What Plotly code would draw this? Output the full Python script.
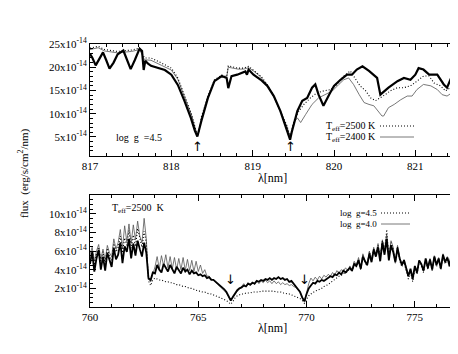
import numpy as np
import plotly.graph_objects as go

# ---- top panel: 817-821.5 nm, flux in units of 1e-14 ----
top_obs_wl = [817.00, 817.03, 817.07, 817.11, 817.16, 817.20, 817.24, 817.29, 817.34, 817.41,
              817.46, 817.50, 817.55, 817.61, 817.64, 817.66, 817.68, 817.71, 817.75, 817.84,
              817.92, 818.00, 818.08, 818.16, 818.24, 818.29, 818.32, 818.37, 818.45, 818.53,
              818.62, 818.68, 818.70, 818.74, 818.81, 818.91, 818.93, 818.95, 819.01, 819.10,
              819.18, 819.26, 819.34, 819.41, 819.46, 819.48, 819.55, 819.61, 819.67, 819.73,
              819.77, 819.81, 819.87, 819.94, 820.00, 820.08, 820.16, 820.22, 820.28, 820.35,
              820.43, 820.53, 820.57, 820.67, 820.78, 820.86, 820.94, 821.00, 821.04, 821.10,
              821.17, 821.27, 821.35, 821.39, 821.45, 821.50]
top_obs = [22.9, 22.0, 20.4, 21.8, 23.2, 21.5, 19.7, 21.0, 22.8, 23.6,
           21.5, 19.6, 21.5, 24.0, 23.5, 19.4, 21.4, 20.8, 20.3, 19.8,
           19.4, 18.4, 16.2, 12.8, 9.1, 6.3, 5.1, 8.5, 13.4, 17.0,
           18.1, 17.7, 15.5, 18.1, 18.4, 19.1, 18.4, 19.5, 18.4, 17.3,
           16.0, 13.8, 10.6, 7.0, 4.4, 6.0, 10.6, 12.8, 13.4, 15.6,
           16.3, 14.1, 11.7, 14.1, 16.0, 17.3, 18.4, 18.4, 19.5, 20.2,
           19.2, 17.7, 14.1, 15.6, 17.0, 17.7, 17.3, 18.4, 19.8, 19.5,
           18.4, 18.4, 16.3, 15.6, 18.1, 19.1]

top_t2500_wl = [817.00, 817.10, 817.18, 817.34, 817.51, 817.61, 817.67, 817.75, 817.88, 818.00,
                818.08, 818.16, 818.25, 818.31, 818.33, 818.37, 818.45, 818.53, 818.62, 818.68,
                818.70, 818.82, 818.89, 818.95, 819.01, 819.10, 819.18, 819.26, 819.34, 819.42,
                819.46, 819.51, 819.57, 819.63, 819.71, 819.79, 819.87, 819.96, 820.04, 820.12,
                820.20, 820.26, 820.32, 820.39, 820.45, 820.51, 820.57, 820.63, 820.69, 820.78,
                820.86, 820.94, 821.02, 821.10, 821.17, 821.23, 821.31, 821.37, 821.43, 821.50]
top_t2500 = [24.1, 24.5, 23.8, 23.4, 23.7, 24.1, 22.0, 22.0, 20.9, 19.8,
             17.7, 14.1, 9.8, 5.9, 5.3, 9.3, 13.8, 17.3, 18.3, 18.0,
             20.3, 19.8, 19.8, 20.2, 19.4, 18.1, 16.3, 13.8, 10.6, 7.5,
             5.0, 8.6, 10.6, 12.0, 13.4, 14.5, 14.9, 15.2, 16.3, 18.1,
             19.2, 17.7, 16.0, 14.9, 13.4, 12.8, 13.4, 14.1, 14.9, 15.6,
             15.6, 16.0, 17.0, 18.1, 18.1, 16.6, 16.0, 14.9, 15.6, 16.6]

top_t2400_wl = [817.00, 817.10, 817.18, 817.34, 817.51, 817.61, 817.67, 817.75, 817.88, 818.00,
                818.08, 818.16, 818.25, 818.31, 818.33, 818.37, 818.45, 818.53, 818.62, 818.68,
                818.70, 818.82, 818.89, 818.95, 819.01, 819.10, 819.18, 819.26, 819.34, 819.42,
                819.46, 819.51, 819.55, 819.59, 819.65, 819.73, 819.81, 819.89, 819.98, 820.06,
                820.12, 820.18, 820.24, 820.31, 820.37, 820.43, 820.49, 820.59, 820.61, 820.67,
                820.74, 820.82, 820.90, 820.96, 821.02, 821.10, 821.19, 821.27, 821.33, 821.39,
                821.45, 821.50]
top_t2400 = [23.8, 24.2, 23.5, 23.1, 23.4, 23.8, 21.6, 21.5, 20.4, 19.4,
             17.4, 13.9, 9.6, 5.9, 5.4, 9.1, 13.6, 17.1, 18.1, 17.8,
             20.0, 19.6, 19.6, 19.9, 19.2, 17.9, 16.1, 13.6, 10.4, 7.3,
             5.0, 8.2, 9.1, 8.1, 9.8, 12.0, 13.4, 14.1, 14.9, 16.3,
             17.3, 17.7, 16.3, 14.1, 12.4, 12.0, 11.7, 9.5, 9.5, 11.3,
             12.0, 13.0, 13.8, 13.8, 15.2, 16.3, 16.0, 15.2, 14.1, 13.8,
             14.5, 13.8]

# ---- bottom panel: 760-776.9 nm, sampled every 0.1 nm ----
bot_wl = np.round(np.arange(760.0, 776.95, 0.1), 1)
bot_obs = [4.6, 5.9, 3.8, 5.2, 6.1, 4.0, 5.4, 3.9, 5.8, 4.9,
           4.3, 6.3, 5.1, 5.6, 6.9, 4.7, 6.5, 5.9, 7.3, 5.2,
           6.8, 5.5, 7.1, 6.2, 5.4, 6.9, 5.8, 3.1, 2.9, 3.7,
           3.6, 4.5, 4.0, 3.7, 4.6, 4.2, 3.8, 4.5, 4.0, 3.6,
           4.3, 3.9, 3.6, 4.2, 3.8, 4.0, 3.5, 3.9, 3.6, 3.7,
           3.4, 3.5, 3.3, 3.4, 3.1, 3.2, 2.9, 2.9, 2.7, 2.5,
           2.4, 2.2, 1.9, 1.6, 1.1, 0.7, 1.1, 1.5, 1.8, 2.0,
           2.1, 2.3, 2.2, 2.5, 2.4, 2.6, 2.5, 2.8, 2.7, 2.9,
           2.8, 3.0, 2.9, 3.1, 2.9, 3.1, 3.0, 3.2, 3.0, 3.1,
           2.9, 3.0, 2.7, 2.8, 2.5, 2.3, 2.0, 1.6, 1.0, 0.6,
           1.4, 2.0, 2.3, 2.6, 2.5, 2.8, 2.7, 2.9, 2.8, 3.0,
           3.1, 3.3, 3.2, 3.5, 3.4, 3.7, 3.5, 3.9, 3.7, 4.0,
           4.2, 3.9, 4.6, 4.4, 5.0, 4.1, 5.4, 4.9, 4.5, 5.7,
           4.8, 6.1, 5.4, 6.4, 4.9, 6.9, 5.6, 7.3, 5.0, 6.6,
           5.9, 4.8, 6.3, 5.2, 4.5, 5.0, 4.2, 3.3, 4.1, 3.0,
           4.4, 3.7, 5.0, 4.6, 3.9, 5.2, 4.2, 5.1, 4.0, 5.4,
           4.5, 5.2, 4.1, 5.6, 4.8, 5.3, 4.4, 5.7, 5.0, 5.5]
bot_g45 = [5.3, 6.1, 4.5, 5.7, 6.4, 4.8, 5.9, 4.6, 6.3, 5.5,
           5.0, 6.8, 5.9, 6.4, 7.6, 5.8, 7.4, 6.6, 8.2, 6.3,
           7.7, 6.5, 8.4, 7.2, 6.4, 8.1, 6.9, 2.8, 2.3, 2.9,
           3.1, 3.0, 2.9, 2.9, 2.8, 2.7, 2.7, 2.6, 2.6, 2.5,
           2.4, 2.4, 2.3, 2.2, 2.2, 2.1, 2.0, 2.0, 1.9, 1.8,
           1.7, 1.7, 1.6, 1.6, 1.5, 1.4, 1.4, 1.3, 1.2, 1.1,
           1.0, 0.9, 0.8, 0.7, 0.5, 0.3, 0.6, 1.0, 1.2, 1.3,
           1.4, 1.4, 1.5, 1.5, 1.5, 1.6, 1.6, 1.6, 1.6, 1.7,
           1.7, 1.7, 1.7, 1.7, 1.7, 1.7, 1.6, 1.6, 1.6, 1.5,
           1.5, 1.4, 1.4, 1.3, 1.2, 1.1, 1.0, 0.9, 0.7, 0.4,
           0.8, 1.2, 1.4, 1.6, 1.7, 1.8, 1.9, 2.0, 2.2, 2.3,
           2.4, 2.6, 2.8, 3.0, 3.1, 3.3, 3.4, 3.6, 3.6, 3.9,
           4.1, 3.8, 4.7, 4.3, 5.1, 4.0, 5.5, 4.8, 4.4, 5.9,
           5.0, 6.3, 5.6, 6.6, 5.2, 7.1, 5.9, 8.3, 5.3, 6.9,
           6.2, 4.7, 6.5, 5.0, 4.3, 4.8, 4.0, 3.0, 3.8, 2.7,
           4.1, 3.5, 4.9, 4.4, 3.7, 5.0, 4.0, 5.0, 3.9, 5.3,
           4.3, 5.1, 4.0, 5.5, 4.6, 5.2, 4.3, 5.6, 4.9, 5.4]
bot_g40 = [5.7, 6.4, 4.9, 6.0, 6.7, 5.1, 6.2, 5.0, 6.6, 5.8,
           5.4, 7.3, 6.2, 6.9, 8.3, 6.3, 8.7, 7.0, 8.9, 6.8,
           8.8, 7.2, 9.2, 7.6, 6.9, 9.5, 7.3, 3.0, 2.7, 3.5,
           4.3, 5.4, 4.1, 5.5, 4.4, 5.6, 4.2, 5.4, 4.1, 5.3,
           4.0, 5.2, 4.0, 5.3, 3.9, 5.1, 3.9, 5.0, 3.8, 4.9,
           3.8, 4.5, 3.6, 4.0, 3.3, 3.3, 3.0, 2.9, 2.6, 2.4,
           2.2, 2.0, 1.8, 1.5, 1.1, 0.7, 1.0, 1.4, 1.7, 1.9,
           2.2, 2.5, 2.2, 2.6, 2.3, 2.7, 2.4, 2.8, 2.5, 2.8,
           2.6, 2.9, 2.6, 2.8, 2.5, 2.8, 2.5, 2.7, 2.4, 2.6,
           2.4, 2.5, 2.3, 2.4, 2.2, 2.1, 1.9, 1.6, 1.1, 0.7,
           1.5, 2.5, 3.1, 2.8, 3.2, 2.9, 3.3, 3.0, 3.4, 3.2,
           3.5, 3.3, 3.7, 3.4, 3.9, 3.6, 4.0, 3.8, 4.2, 3.9,
           4.4, 4.0, 4.9, 4.5, 5.3, 4.2, 5.7, 5.0, 4.6, 6.0,
           5.1, 6.4, 5.7, 6.8, 5.3, 7.2, 6.1, 7.8, 5.4, 7.1,
           6.4, 4.9, 6.6, 5.3, 4.6, 5.1, 4.3, 3.5, 4.0, 3.0,
           4.3, 3.6, 5.0, 4.5, 3.8, 5.1, 4.1, 5.2, 4.0, 5.5,
           4.6, 5.3, 4.2, 5.7, 4.8, 5.4, 4.5, 5.8, 5.1, 5.6]

top_yticks = [5, 10, 15, 20, 25]
bot_yticks = [2, 4, 6, 8, 10]
top_arrows = [818.32, 819.46]
bot_arrows = [766.49, 769.90]

FONT = "Liberation Serif"
W, H = 458, 354
L, R, T, B = 82, 10, 36, 55

def px(x):
    return (x - L) / (W - L - R)

def py(y):
    return (H - B - y) / (H - T - B)

fig = go.Figure()
thick = dict(color="black", width=2.2)
dotted = dict(color="black", width=1.1, dash="1px,2px")
thin = dict(color="#555555", width=0.8)

fig.add_trace(go.Scatter(x=top_t2400_wl, y=top_t2400, mode="lines", line=thin, xaxis="x", yaxis="y"))
fig.add_trace(go.Scatter(x=top_t2500_wl, y=top_t2500, mode="lines", line=dotted, xaxis="x", yaxis="y"))
fig.add_trace(go.Scatter(x=top_obs_wl, y=top_obs, mode="lines", line=thick, xaxis="x", yaxis="y"))

fig.add_trace(go.Scatter(x=bot_wl, y=bot_g40, mode="lines", line=thin, xaxis="x2", yaxis="y2"))
fig.add_trace(go.Scatter(x=bot_wl, y=bot_g45, mode="lines", line=dotted, xaxis="x2", yaxis="y2"))
fig.add_trace(go.Scatter(x=bot_wl, y=bot_obs, mode="lines", line=dict(color="black", width=1.8), xaxis="x2", yaxis="y2"))

axis_common = dict(showline=True, linecolor="black", linewidth=1, mirror="allticks",
                   ticks="inside", ticklen=6, tickcolor="black", showgrid=False, zeroline=False,
                   tickfont=dict(family=FONT, size=11, color="black"))

fig.update_layout(
    width=W, height=H, margin=dict(l=L, r=R, t=T, b=B),
    paper_bgcolor="white", plot_bgcolor="white", showlegend=False,
    xaxis=dict(axis_common, range=[817, 821.5], dtick=1, domain=[0, 1], anchor="y",
               minor=dict(dtick=0.2, ticks="inside", ticklen=3, tickcolor="black")),
    yaxis=dict(axis_common, range=[0.9, 25], domain=[(299 - 148) / 263, 1], anchor="x",
               tickvals=top_yticks, ticktext=[f"{v}x10<sup>-14</sup>" for v in top_yticks],
               minor=dict(dtick=1, ticks="inside", ticklen=3, tickcolor="black")),
    xaxis2=dict(axis_common, range=[760, 776.9], dtick=5, domain=[0, 1], anchor="y2",
                minor=dict(dtick=1, ticks="inside", ticklen=3, tickcolor="black")),
    yaxis2=dict(axis_common, range=[0, 12], domain=[0, (299 - 187) / 263], anchor="x2",
                tickvals=bot_yticks, ticktext=[f"{v}x10<sup>-14</sup>" for v in bot_yticks],
                minor=dict(dtick=0.5, ticks="inside", ticklen=3, tickcolor="black")),
)

txt = dict(family=FONT, size=10, color="black")
small = dict(family=FONT, size=9, color="black")

def label(text, x, y, **kw):
    d = dict(text=text, x=px(x), y=py(y), xref="paper", yref="paper",
             xanchor="left", yanchor="middle", showarrow=False, font=txt,
             borderpad=0)
    d.update(kw)
    return d

ann = [
    label("flux  (erg/s/cm<sup>2</sup>/nm)", 15, 165, xanchor="center", textangle=-90,
          font=dict(family=FONT, size=11, color="black")),
    label("λ[nm]", 264, 170, xanchor="center", font=dict(family=FONT, size=12, color="black")),
    label("λ[nm]", 264, 320, xanchor="center", font=dict(family=FONT, size=12, color="black")),
    label("log  g  =4.5", 107, 129),
    label("T<sub>eff</sub>=2500 K", 369, 118, xanchor="right"),
    label("T<sub>eff</sub>=2400 K", 369, 129, xanchor="right"),
    label("T<sub>eff</sub>=2500  K", 103, 201),
    label("log  g=4.5", 370, 205, xanchor="right", font=small),
    label("log  g=4.0", 370, 216, xanchor="right", font=small),
]
for w in top_arrows:
    ann.append(dict(text="↑", x=w, y=2.9, xref="x", yref="y", showarrow=False,
                    yanchor="middle", font=dict(family="DejaVu Sans", size=13, color="black")))
for w in bot_arrows:
    ann.append(dict(text="↓", x=w, y=3.0, xref="x2", yref="y2", showarrow=False,
                    yanchor="middle", font=dict(family="DejaVu Sans", size=13, color="black")))
fig.update_layout(annotations=ann)

shapes = [
    dict(type="line", xref="paper", yref="paper", x0=px(372), x1=px(406), y0=py(118), y1=py(118),
         line=dict(color="black", width=1.1, dash="1px,2px")),
    dict(type="line", xref="paper", yref="paper", x0=px(372), x1=px(406), y0=py(129), y1=py(129),
         line=dict(color="#555555", width=0.8)),
    dict(type="line", xref="paper", yref="paper", x0=px(373), x1=px(402), y0=py(205), y1=py(205),
         line=dict(color="black", width=1.1, dash="1px,2px")),
    dict(type="line", xref="paper", yref="paper", x0=px(373), x1=px(402), y0=py(216), y1=py(216),
         line=dict(color="#555555", width=0.8)),
]
fig.update_layout(shapes=shapes)

fig.write_html("out.html")
